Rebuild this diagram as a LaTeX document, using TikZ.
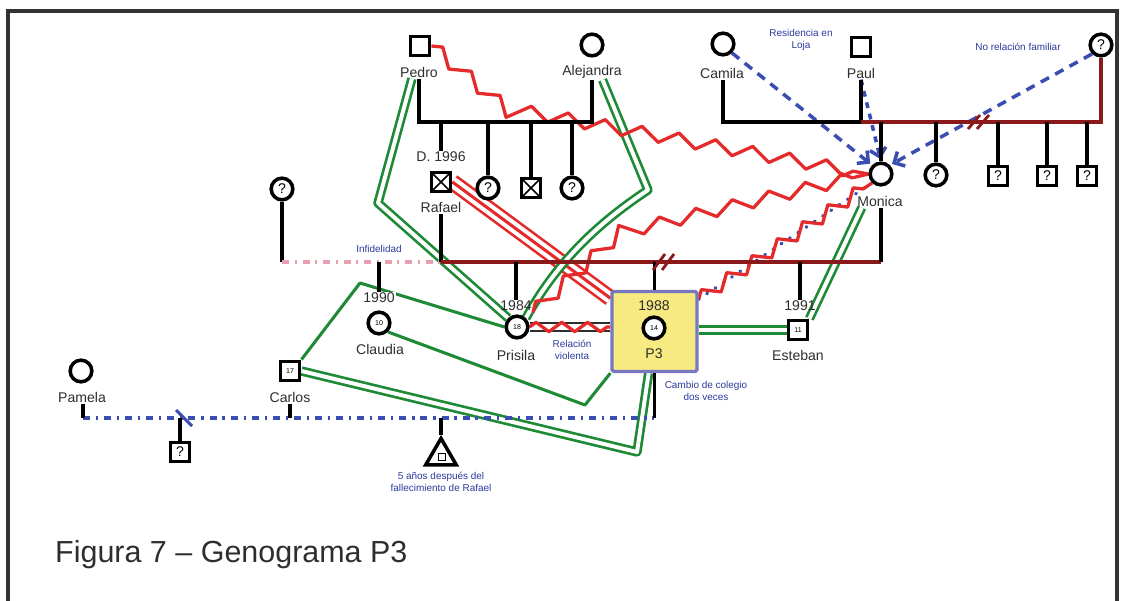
\documentclass[tikz,border=0pt]{standalone}
\usepackage{fontspec}
\setmainfont{Liberation Sans}
\usetikzlibrary{shapes.geometric,decorations.pathmorphing,arrows.meta,calc}
\pgfdeclarelayer{bg}
\pgfsetlayers{bg,main}
\definecolor{labc}{HTML}{2E2E2E}
\definecolor{notec}{HTML}{2B3A9C}
\definecolor{grn}{HTML}{1F8A36}
\definecolor{rd}{HTML}{E42A2A}
\definecolor{mar}{HTML}{8A1A1A}
\definecolor{blu}{HTML}{3A4DB0}
\definecolor{pnk}{HTML}{E8A0B0}
\definecolor{yel}{HTML}{F6EA80}
\definecolor{boxb}{HTML}{7878C0}
\definecolor{framec}{HTML}{333333}
\begin{document}
\begin{tikzpicture}[x=0.03cm,y=-0.03cm,
 blk/.style={line width=3pt,black},
 sq/.style={draw,line width=3pt,minimum size=16.5pt,inner sep=0pt,fill=white,font=\fontsize{12}{12}\selectfont},
 ci/.style={draw,circle,line width=3pt,minimum size=18.5pt,inner sep=0pt,fill=white,font=\fontsize{12}{12}\selectfont},
 xsq/.style={sq,path picture={\draw[line width=1.3pt] (path picture bounding box.north west) -- (path picture bounding box.south east) (path picture bounding box.north east) -- (path picture bounding box.south west);}},
 lab/.style={font=\fontsize{12}{13}\selectfont,text=labc,inner sep=1pt},
 num/.style={font=\fontsize{6}{7}\selectfont},
 note/.style={font=\fontsize{8.5}{10}\selectfont,text=notec,align=center,inner sep=0pt},
 gline/.style={draw=grn,line width=2.3pt,double=white,double distance=3.4pt,line join=round},
 gsingle/.style={draw=grn,line width=2.6pt,line join=round},
 zz/.style={draw=rd,line width=2.8pt,line join=round,decorate,decoration={zigzag,segment length=32pt,amplitude=5.5pt}},
 bdash/.style={draw=blu,line width=3pt,dash pattern=on 8pt off 6pt,shorten >=2pt,-{Straight Barb[length=7pt,width=14pt]}},
 mline/.style={draw=mar,line width=3pt},
 slash/.style={draw=mar,line width=2.4pt},
]
\useasboundingbox (0,0) rectangle (1122,601);
\draw[framec,line width=2.6pt] (8,605) -- (8,11) -- (1117,11) -- (1117,605);

% ---------- top generation
\node[sq] (pedro) at (420,46) {};
\node[lab] (pedroL) at (419,72) {Pedro};
\node[ci] (alej) at (592,45) {};
\node[lab] (alejL) at (592,72) {Alejandra};
\node[ci] (camila) at (723,44) {};
\node[lab] (camilaL) at (722,73) {Camila};
\node[sq] (paul) at (861,47) {};
\node[lab] (paulL) at (861,73) {Paul};
\node[ci] (qtop) at (1101,45) {?};
\node[note] (nres) at (801,40) {Residencia en\\Loja};
\node[note] (nnorel) at (1018,47) {No relación familiar};

\coordinate (jp) at (419,122);
\coordinate (ja) at (592,122);
\draw[blk] (pedroL.south -| jp) -- (jp) -- (ja) -- (alejL.south -| ja);

\node[xsq] (rafael) at (441,182) {};
\node[lab] (rafD) at (441,157) {D. 1996};
\node[lab] (rafaelL) at (441,207) {Rafael};
\node[ci] (pa2) at (488,188) {?};
\node[xsq] (pa3) at (531,188) {};
\node[ci] (pa4) at (572,188) {?};
\draw[blk] (rafD.north |- jp) -- (rafD.north);
\draw[blk] (pa2.north |- jp) -- (pa2.north);
\draw[blk] (pa3.north |- jp) -- (pa3.north);
\draw[blk] (pa4.north |- jp) -- (pa4.north);

\coordinate (jc) at (723,122);
\coordinate (jpl) at (861,122);
\coordinate (jq) at (1101,122);
\draw[blk] (camilaL.south -| jc) -- (jc) -- (jpl) -- (paulL.south -| jpl);
\draw[mline] (jpl) -- (jq) -- (qtop.south);
\draw[slash] (968,129) -- (980,115) (977,129) -- (989,115);

\node[ci] (monica) at (881,174) {};
\node[lab] (monicaL) at (880,201) {Monica};
\node[ci] (pq1) at (936,175) {?};
\node[sq] (pq2) at (998,176) {?};
\node[sq] (pq3) at (1047,176) {?};
\node[sq] (pq4) at (1087,176) {?};
\draw[blk] (monica.north |- jq) -- (monica.north);
\draw[blk] (pq1.north |- jq) -- (pq1.north);
\draw[blk] (pq2.north |- jq) -- (pq2.north);
\draw[blk] (pq3.north |- jq) -- (pq3.north);
\draw[blk] (pq4.north |- jq) -- (pq4.north);

% ---------- middle generation
\node[ci] (qleft) at (282,189) {?};
\coordinate (ml) at (282,262);
\coordinate (mr1) at (441,262);
\coordinate (mr2) at (881,262);
\draw[blk] (qleft.south) -- (ml);
\draw[draw=pnk,line width=2.6pt,dash pattern=on 6pt off 5pt on 1.5pt off 5pt] (ml) -- (mr1);
\draw[blk] (rafaelL.south) -- (mr1);
\draw[mline] (mr1) -- (mr2);
\draw[blk] (monicaL.south -| mr2) -- (mr2);
\node[note] (ninf) at (379,249) {Infidelidad};

\node[lab,fill=white] (y1990) at (379,298) {1990};
\node[ci,num] (claudia) at (379,323) {10};
\node[lab] (claudiaL) at (380,349) {Claudia};
\draw[blk] (y1990.north |- mr1) -- (y1990.north);

\node[lab] (y1984) at (516,306) {1984};
\node[ci,num] (prisila) at (517,327) {18};
\node[lab] (prisilaL) at (516,355) {Prisila};
\draw[blk] (y1984.north |- mr1) -- (y1984.north);

\node[draw=boxb,fill=yel,line width=2.8pt,rounded corners=1.5pt,minimum width=2.55cm,minimum height=2.4cm,inner sep=0pt] (p3box) at (654.5,331.5) {};
\node[lab] (y1988) at (654,306) {1988};
\node[ci,num] (p3) at (654,328) {14};
\node[lab] (p3L) at (654,354) {P3};
\draw[blk] (p3box.north |- mr1) -- (p3box.north);
\draw[slash] (653,270) -- (665,254) (662,270) -- (674,254);

\node[lab] (y1991) at (800,306) {1991};
\node[sq,num] (esteban) at (798,330) {11};
\node[lab] (estebanL) at (798,355) {Esteban};
\draw[blk] (y1991.north |- mr1) -- (y1991.north);

\node[note] (nviol) at (572,350) {Relación\\violenta};
\node[note] (ncamb) at (706,391) {Cambio de colegio\\dos veces};

% ---------- bottom
\node[ci] (pamela) at (81,371) {};
\node[lab] (pamelaL) at (82,397) {Pamela};
\node[sq,num] (carlos) at (290,371) {17};
\node[lab] (carlosL) at (290,397) {Carlos};
\coordinate (b1) at (83,418);
\coordinate (b2) at (654,418);
\draw[blk] (pamelaL.south -| b1) -- (b1);
\draw[blk] (carlosL.south) -- (carlosL.south |- b1);
\draw[blk] (p3box.south) -- (p3box.south |- b2);

\node[sq] (qbot) at (180,452) {?};
\draw[blk] (qbot.north |- b1) -- (qbot.north);
\node[draw,regular polygon,regular polygon sides=3,line width=3pt,minimum size=30pt,inner sep=0pt,fill=white] (tri) at (441,456) {};
\node[draw,line width=1.2pt,minimum size=6pt,inner sep=0pt] (trisq) at (442,457) {};
\draw[blk] (tri.corner 1 |- b1) -- (tri.corner 1);
\node[note] (n5) at (441,482) {5 años después del\\fallecimiento de Rafael};

\node[anchor=west,font=\fontsize{26}{28}\selectfont,text=labc,inner sep=0pt] (cap) at (55,555) {Figura 7 – Genograma P3};

% ---------- relationship connectors (under the symbols)
\begin{pgfonlayer}{bg}
 % triple red: Rafael - P3
 \draw[rd,line width=14pt] (rafael.east) -- ($(p3box.north west)!0.1!(p3box.south west)$);
 \draw[white,line width=9.5pt] (rafael.east) -- ($(p3box.north west)!0.1!(p3box.south west)$);
 \draw[rd,line width=2.6pt] (rafael.east) -- ($(p3box.north west)!0.1!(p3box.south west)$);
 % green
 \draw[gline] ([xshift=-6pt]pedroL.south) -- (378,203) -- (prisila.north west);
 \draw[gline] ([xshift=9pt]alejL.south) -- (648,190) .. controls (595,225) and (555,265) .. (prisila.north east);
 \draw[gsingle] (claudia.south east) -- (585,405) -- (p3box.south west);
 \draw[gsingle] (carlos.north east) -- (360,283) -- (prisila.west);
 \draw[gline] (carlos.east) -- (637,452) -- ([xshift=-5pt]p3box.south);
 \draw[gline] (p3box.east |- esteban.west) -- (esteban.west);
 \draw[gline] (esteban.north east) -- ([xshift=5pt]monicaL.south west);
 % Prisila - P3 violent relation
 \draw[labc,line width=2pt] ([yshift=3.5pt]prisila.east) -- ([yshift=3.5pt]prisila.east -| p3box.west);
 \draw[labc,line width=2pt] ([yshift=-3.5pt]prisila.east) -- ([yshift=-3.5pt]prisila.east -| p3box.west);
 \draw[zz,decoration={segment length=22pt,amplitude=4pt}] (prisila.east) -- (prisila.east -| p3box.west);
 % red zigzags to Monica
 \draw[zz] (pedro.east) -- (505,108) -- (monica.west);
 \draw[zz] (y1984.south east) -- (620,233) -- (monica.west);
 \draw[blu,line width=3pt,line cap=round,dash pattern=on 0.5pt off 8pt] ([yshift=-8pt]p3box.north east) -- (monica.south west);
 \draw[zz,decoration={segment length=26pt}] ([yshift=-8pt]p3box.north east) -- (monica.south west);
 % blue dashed arrows
 \draw[bdash] (camila.south east) -- (monica.north west);
 \draw[bdash,dash pattern=on 5pt off 5pt] (paulL.south) -- (monica.north);
 \draw[bdash] (qtop.south west) -- (monica.north east);
 % Pamela - P3 line
 \draw[blu,line width=3pt,dash pattern=on 6pt off 5pt on 2pt off 5pt] (b1) -- (b2);
 \draw[blu,line width=2.6pt] (176,410) -- (192,426);
\end{pgfonlayer}
\end{tikzpicture}
\end{document}
